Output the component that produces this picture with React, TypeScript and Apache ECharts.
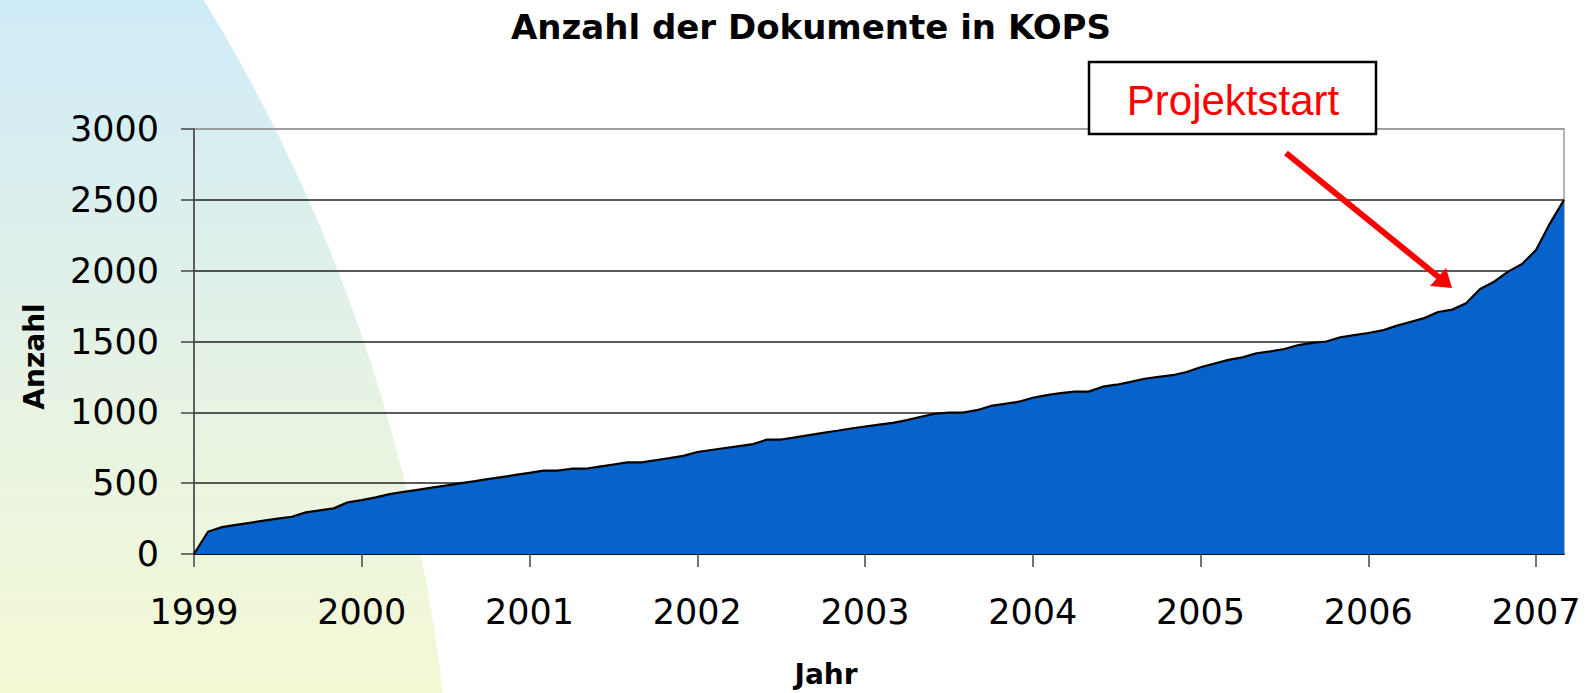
import React, { useEffect, useRef } from "react";
import * as echarts from "echarts";

// Year tick labels (one per January)
const years = ["1999", "2000", "2001", "2002", "2003", "2004", "2005", "2006", "2007"];
// Month numbers used to build the monthly category axis
const monthNums = ["01", "02", "03", "04", "05", "06", "07", "08", "09", "10", "11", "12"];
// Number of months shown in the last year (Jan–Mar 2007)
const lastYearMonths = 3;

// Cumulative number of documents at the start of each month
const documents = [
  0, 157, 190, 205, 220, 235, 250, 263, 294, 308, 322, 365,
  380, 400, 423, 438, 453, 468, 483, 498, 513, 528, 543, 558,
  573, 588, 588, 602, 602, 617, 632, 647, 647, 662, 677, 693,
  720, 734, 748, 762, 776, 808, 808, 823, 839, 855, 870, 886,
  900, 913, 926, 945, 969, 990, 998, 998, 1015, 1045, 1060, 1075,
  1103, 1122, 1135, 1146, 1146, 1181, 1195, 1215, 1237, 1250, 1262, 1285,
  1318, 1345, 1370, 1388, 1417, 1430, 1447, 1475, 1490, 1500, 1530, 1545,
  1560, 1578, 1610, 1638, 1665, 1708, 1725, 1770, 1871, 1922, 1993, 2047,
  2146, 2334, 2500,
];

const yTicks = { min: 0, max: 3000, interval: 500 };

const titleText = "Anzahl der Dokumente in KOPS";
const xAxisTitle = "Jahr";
const yAxisTitle = "Anzahl";
const annotationText = "Projektstart";

const months: string[] = [];
years.forEach((y, i) => {
  const n = i === years.length - 1 ? lastYearMonths : 12;
  for (let m = 0; m < n; m++) months.push(`${y}-${monthNums[m]}`);
});

export default function App() {
  const ref = useRef<HTMLDivElement>(null);

  useEffect(() => {
    if (!ref.current) return;
    const chart = echarts.init(ref.current, undefined, { renderer: "svg" });
    const font = "DejaVu Sans";
    const bg = new echarts.graphic.LinearGradient(
      0, 0, 0, 693,
      [
        { offset: 0, color: "#cfebf8" },
        { offset: 0.5, color: "#e4f2e6" },
        { offset: 1, color: "#f4f9d5" },
      ],
      true
    );
    const yearIdx = (idx: number) => idx % 12 === 0;
    chart.setOption({
      animation: false,
      textStyle: { fontFamily: font },
      title: [
        {
          text: titleText,
          left: 806,
          textAlign: "center",
          top: 5,
          textStyle: { fontSize: 34, fontWeight: "bold", color: "#000", fontFamily: font },
        },
        {
          text: xAxisTitle,
          left: 821,
          textAlign: "center",
          top: 655,
          textStyle: { fontSize: 28, fontWeight: "bold", color: "#000", fontFamily: font },
        },
      ],
      grid: {
        left: 194,
        right: 24,
        top: 129,
        bottom: 139,
        show: true,
        borderColor: "#999",
        borderWidth: 1.5,
        backgroundColor: "transparent",
      },
      xAxis: {
        type: "category",
        data: months,
        boundaryGap: false,
        axisLine: { lineStyle: { color: "#000", width: 1.5 } },
        axisTick: { interval: yearIdx, length: 13, lineStyle: { color: "#444", width: 1.5 } },
        axisLabel: {
          interval: yearIdx,
          formatter: (v: string) => v.slice(0, 4),
          fontSize: 35,
          color: "#000",
          margin: 40,
          fontFamily: font,
        },
        splitLine: { show: false },
      },
      yAxis: {
        type: "value",
        min: yTicks.min,
        max: yTicks.max,
        interval: yTicks.interval,
        name: yAxisTitle,
        nameLocation: "middle",
        nameRotate: 90,
        nameGap: 146,
        nameTextStyle: {
          fontSize: 28,
          fontWeight: "bold",
          color: "#000",
          fontFamily: font,
          padding: [0, 30, 0, 0],
        },
        axisLine: { show: true, lineStyle: { color: "#444", width: 1.5 } },
        axisTick: { show: true, length: 13, lineStyle: { color: "#444", width: 1.5 } },
        axisLabel: {
          fontSize: 35,
          color: "#000",
          margin: 35,
          fontFamily: font,
          formatter: (v: number) => String(v),
        },
        splitLine: {
          show: true,
          lineStyle: {
            color: ["#222", "#222", "#222", "#222", "#222", "#222", "#999"],
            width: 1.5,
          },
        },
      },
      series: [
        {
          type: "line",
          data: documents,
          symbol: "none",
          lineStyle: { color: "#000", width: 2.2 },
          areaStyle: { color: "#0563cb", opacity: 1 },
          z: 3,
        },
      ],
      graphic: [
        {
          type: "circle",
          z: -100,
          silent: true,
          shape: { cx: -1246, cy: 888, r: 1700 },
          style: { fill: bg },
        },
        {
          type: "rect",
          z: 100,
          shape: { x: 1089, y: 62, width: 287, height: 72 },
          style: { fill: "#fff", stroke: "#000", lineWidth: 2.5 },
        },
        {
          type: "text",
          z: 101,
          x: 1233,
          y: 100,
          style: {
            text: annotationText,
            fill: "#ff0000",
            font: '42px "Liberation Sans", Arial, sans-serif',
            textAlign: "center",
            textVerticalAlign: "middle",
          },
        },
        {
          type: "line",
          z: 100,
          shape: { x1: 1286, y1: 153, x2: 1441, y2: 279 },
          style: { stroke: "#ff0000", lineWidth: 6 },
        },
        {
          type: "polygon",
          z: 100,
          shape: { points: [[1452, 288], [1430, 286], [1446, 268]] },
          style: { fill: "#ff0000" },
        },
      ],
    });
    return () => chart.dispose();
  }, []);

  return (
    <div
      ref={ref}
      style={{ position: "fixed", left: 0, top: 0, width: 1588, height: 693, background: "#fff" }}
    />
  );
}
